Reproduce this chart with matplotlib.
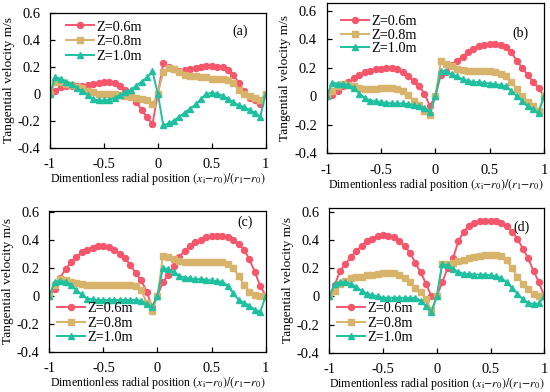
import matplotlib
matplotlib.use("Agg")
import matplotlib.pyplot as plt
from matplotlib.ticker import FuncFormatter

plt.rcParams['font.family'] = ['Liberation Serif', 'DejaVu Serif']
plt.rcParams['mathtext.fontset'] = 'stix'

x = [round(-1 + 0.05 * i, 2) for i in range(41)]
series_labels = ["Z=0.6m", "Z=0.8m", "Z=1.0m"]
panel_labels = ["(a)", "(b)", "(c)", "(d)"]

# Panel (a)
a_z06 = [0, 0.02, 0.05, 0.055, 0.06, 0.06, 0.06, 0.065, 0.07, 0.08, 0.085, 0.085, 0.08, 0.06, 0.03, -0.01, -0.06, -0.12, -0.175, -0.225,
         0, 0.225, 0.2, 0.18, 0.17, 0.175, 0.18, 0.19, 0.2, 0.205, 0.205, 0.2, 0.195, 0.175, 0.14, 0.08, 0.02, -0.03, -0.05, -0.08, 0]
a_z08 = [0, 0.09, 0.085, 0.075, 0.065, 0.05, 0.04, 0.02, 0.01, 0.0, 0.0, 0.0, -0.005, -0.01, -0.02, -0.025, -0.03, -0.04, -0.05, -0.08,
         0, 0.16, 0.19, 0.18, 0.16, 0.14, 0.13, 0.13, 0.12, 0.12, 0.11, 0.11, 0.11, 0.1, 0.08, 0.03, 0.0, -0.02, -0.03, -0.05, 0]
a_z10 = [0, 0.125, 0.11, 0.09, 0.07, 0.04, 0.02, -0.01, -0.04, -0.05, -0.05, -0.045, -0.03, -0.01, 0.01, 0.03, 0.06, 0.09, 0.12, 0.165,
         0, -0.235, -0.22, -0.2, -0.17, -0.14, -0.11, -0.08, -0.04, 0.0, 0.005, 0.0, -0.015, -0.04, -0.065, -0.085, -0.1, -0.12, -0.14, -0.17, 0]

# Panel (b)
b_z06 = [0, 0.01, 0.04, 0.07, 0.1, 0.13, 0.15, 0.17, 0.18, 0.19, 0.195, 0.2, 0.2, 0.19, 0.17, 0.14, 0.11, 0.07, 0.02, -0.07,
         0, 0.15, 0.17, 0.22, 0.25, 0.28, 0.31, 0.335, 0.355, 0.36, 0.365, 0.365, 0.36, 0.345, 0.31, 0.25, 0.2, 0.15, 0.1, 0.06, 0]
b_z08 = [0, 0.04, 0.07, 0.085, 0.08, 0.07, 0.06, 0.055, 0.055, 0.055, 0.06, 0.06, 0.06, 0.055, 0.04, 0.01, -0.03, -0.06, -0.1, -0.13,
         0, 0.245, 0.23, 0.21, 0.19, 0.185, 0.18, 0.18, 0.18, 0.18, 0.175, 0.17, 0.16, 0.14, 0.1, 0.05, 0.0, -0.04, -0.07, -0.1, 0]
b_z10 = [0, 0.095, 0.09, 0.085, 0.08, 0.06, 0.02, -0.01, -0.03, -0.035, -0.04, -0.045, -0.05, -0.05, -0.05, -0.055, -0.06, -0.07, -0.08, -0.11,
         0, 0.175, 0.175, 0.155, 0.14, 0.12, 0.11, 0.1, 0.1, 0.095, 0.09, 0.085, 0.08, 0.07, 0.04, 0.0, -0.03, -0.07, -0.09, -0.115, 0]

# Panel (c)
c_z06 = [0, 0.05, 0.13, 0.19, 0.24, 0.28, 0.31, 0.33, 0.345, 0.355, 0.355, 0.35, 0.33, 0.3, 0.27, 0.22, 0.16, 0.11, 0.03, -0.08,
         0, 0.1, 0.15, 0.21, 0.28, 0.32, 0.36, 0.385, 0.4, 0.42, 0.43, 0.43, 0.43, 0.42, 0.4, 0.37, 0.33, 0.26, 0.17, 0.07, 0]
c_z08 = [0, 0.08, 0.12, 0.115, 0.1, 0.09, 0.085, 0.08, 0.08, 0.08, 0.08, 0.08, 0.08, 0.08, 0.08, 0.075, 0.07, 0.04, -0.05, -0.11,
         0, 0.285, 0.28, 0.265, 0.25, 0.245, 0.245, 0.245, 0.245, 0.245, 0.245, 0.245, 0.245, 0.23, 0.2, 0.14, 0.08, 0.03, 0.005, 0.0, 0]
c_z10 = [0, 0.1, 0.105, 0.1, 0.08, 0.04, 0.01, -0.02, -0.025, -0.03, -0.03, -0.03, -0.03, -0.03, -0.03, -0.03, -0.03, -0.035, -0.06, -0.08,
         0, 0.2, 0.19, 0.17, 0.145, 0.13, 0.125, 0.12, 0.12, 0.115, 0.11, 0.105, 0.1, 0.07, 0.02, -0.03, -0.05, -0.07, -0.1, -0.115, 0]

# Panel (d)
d_z06 = [0, 0.08, 0.18, 0.23, 0.28, 0.32, 0.36, 0.39, 0.41, 0.43, 0.435, 0.43, 0.42, 0.39, 0.36, 0.31, 0.24, 0.17, 0.09, 0.0,
         0, 0.1, 0.2, 0.27, 0.39, 0.46, 0.5, 0.52, 0.535, 0.535, 0.535, 0.535, 0.52, 0.5, 0.46, 0.41, 0.34, 0.27, 0.18, 0.1, 0]
d_z08 = [0, 0.04, 0.09, 0.11, 0.13, 0.135, 0.14, 0.15, 0.155, 0.16, 0.165, 0.165, 0.165, 0.155, 0.13, 0.1, 0.06, 0.03, -0.02, -0.1,
         0, 0.23, 0.23, 0.24, 0.25, 0.26, 0.27, 0.28, 0.29, 0.295, 0.295, 0.295, 0.285, 0.255, 0.2, 0.14, 0.09, 0.05, 0.02, 0.0, 0]
d_z10 = [0, 0.09, 0.1, 0.1, 0.09, 0.065, 0.04, 0.02, 0.01, 0.0, -0.01, -0.01, -0.01, -0.01, -0.01, -0.01, -0.01, -0.03, -0.07, -0.11,
         0, 0.23, 0.22, 0.195, 0.175, 0.16, 0.16, 0.155, 0.155, 0.155, 0.15, 0.145, 0.13, 0.1, 0.06, 0.02, -0.02, -0.045, -0.055, -0.05, 0]

panels = [(a_z06, a_z08, a_z10), (b_z06, b_z08, b_z10), (c_z06, c_z08, c_z10), (d_z06, d_z08, d_z10)]

x_ticks = [-1, -0.5, 0, 0.5, 1]
y_ticks = [-0.4, -0.2, 0, 0.2, 0.4, 0.6]

colors = ["#F5566C", "#D8B36C", "#1EC09F"]
markers = ["o", "s", "^"]

W, H = 550, 392
# axes boxes in pixels: left, right, top, bottom, ymax
boxes = [
    (50, 265.7, 12.7, 147.7, 0.6),
    (326.7, 544, 3, 153.3, 0.656),
    (49.3, 265.7, 211, 351.7, 0.607),
    (329.3, 544.3, 207.7, 352.7, 0.63),
]
legend_anchor = [(0.075, 0.785), (0.068, 0.787), (0.035, 0.202), (0.038, 0.203)]
legend_spacing = [0.12, 0.02, 0.1, 0.1]
label_pos = [(0.881, 0.859), (0.89, 0.80), (0.904, 0.92), (0.895, 0.862)]

fig = plt.figure(figsize=(W / 100, H / 100), dpi=100)

def fmt(v, pos):
    if abs(v) < 1e-9:
        return "0"
    return "%g" % round(v, 2)

for i, (l, r, t, b, ymax) in enumerate(boxes):
    ax = fig.add_axes([l / W, 1 - b / H, (r - l) / W, (b - t) / H])
    for j, ys in enumerate(panels[i]):
        ax.plot(x, ys, color=colors[j], marker=markers[j], markersize=4.3,
                linewidth=1.4, label=series_labels[j])
    ax.set_xlim(-1, 1)
    ax.set_ylim(-0.4, ymax)
    ax.set_xticks(x_ticks)
    ax.set_yticks(y_ticks)
    ax.xaxis.set_major_formatter(FuncFormatter(fmt))
    ax.yaxis.set_major_formatter(FuncFormatter(fmt))
    ax.tick_params(direction="in", length=3.5, labelsize=10.4, width=0.9)
    ax.tick_params(axis="x", pad=7.5)
    ax.tick_params(axis="y", pad=7)
    for sp in ax.spines.values():
        sp.set_linewidth(0.9)
    ax.set_ylabel("Tangential velocity m/s", fontsize=9.6, labelpad=2)
    ax.set_xlabel(r"Dimentionless radial position $(x_\mathrm{i}{-}r_0)/(r_1{-}r_0)$",
                  fontsize=8.6, labelpad=0)
    ax.legend(loc="center left", bbox_to_anchor=legend_anchor[i], frameon=False,
              fontsize=10.3, handlelength=1.95, handletextpad=0.15,
              labelspacing=legend_spacing[i], borderaxespad=0, borderpad=0)
    ax.text(label_pos[i][0], label_pos[i][1], panel_labels[i], transform=ax.transAxes,
            fontsize=10, ha="center", va="center")

fig.savefig("out.png", dpi=100)
